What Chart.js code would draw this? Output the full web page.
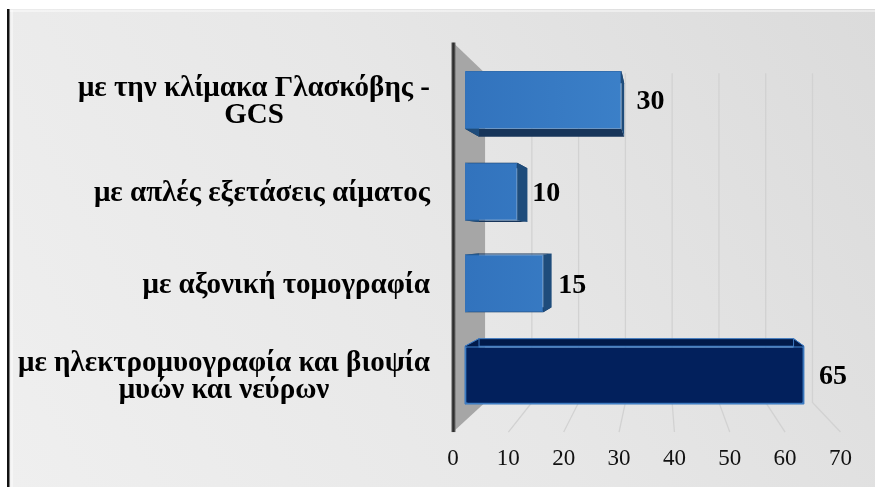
<!DOCTYPE html>
<html>
<head>
<meta charset="utf-8">
<script src="https://cdn.jsdelivr.net/npm/chart.js@4.4.1/dist/chart.umd.min.js"></script>
<style>
  html, body { margin: 0; padding: 0; background: #fff; }
  canvas { display: block; }
</style>
</head>
<body>
<canvas id="myChart" width="875" height="487"></canvas>
<script>
// Categories, top to bottom (each entry is the list of text lines)
let categories = [
    ['με την κλίμακα Γλασκόβης -', 'GCS'],
    ['με απλές εξετάσεις αίματος'],
    ['με αξονική τομογραφία'],
    ['με ηλεκτρομυογραφία και βιοψία', 'μυών και νεύρων']
];
let values = [30, 10, 15, 65];
let xTicks = [0, 10, 20, 30, 40, 50, 60, 70];

// colours for front face / depth faces of each bar
let frontLight = ['#3273bd', '#4790d6'];
let frontDark = '#02205c';
let sideColors = ['#1e4c7b', '#1e4c7b', '#1e4c7b', '#011a4a'];
let capColors = ['#17355a', '#17355a', '#17355a', '#011a4a'];

// perspective setup: everything is projected toward a vanishing point
const VP = { x: 660, y: 241 };
const BAR_DEPTH = 0.072;
const WALL_FRONT = -0.0615;
const WALL_BACK = 0.103;
const SERIF = '"Liberation Serif", "Times New Roman", serif';

function project(x, y, t) {
    return { x: VP.x + (x - VP.x) * (1 - t), y: VP.y + (y - VP.y) * (1 - t) };
}

function quad(ctx, pts, fill, stroke) {
    ctx.beginPath();
    ctx.moveTo(pts[0].x, pts[0].y);
    for (let i = 1; i < pts.length; i++) ctx.lineTo(pts[i].x, pts[i].y);
    ctx.closePath();
    ctx.fillStyle = fill;
    ctx.fill();
    if (stroke) {
        ctx.strokeStyle = stroke;
        ctx.lineWidth = 1;
        ctx.stroke();
    }
}

let scenePlugin = {
    id: 'scene3d',
    beforeDraw(chart) {
        let ctx = chart.ctx;
        let area = chart.chartArea;
        let xs = chart.scales.x;
        let ys = chart.scales.y;
        ctx.save();

        // page background and frame
        ctx.fillStyle = '#ffffff';
        ctx.fillRect(0, 0, chart.width, chart.height);
        let bg = ctx.createLinearGradient(9, chart.height, chart.width, 9);
        bg.addColorStop(0, '#efefef');
        bg.addColorStop(0.5, '#e7e7e7');
        bg.addColorStop(1, '#dbdbdb');
        ctx.fillStyle = bg;
        ctx.fillRect(9, 9, chart.width - 9, chart.height - 9);
        ctx.fillStyle = 'rgba(255,255,255,0.45)';
        ctx.fillRect(9, 10, chart.width - 9, 2);
        ctx.fillRect(11, 10, 2, chart.height - 10);
        ctx.fillStyle = '#111111';
        ctx.fillRect(7, 9, 2.5, chart.height - 9);

        // back wall gridlines and floor lines
        ctx.strokeStyle = '#d2d2d2';
        ctx.lineWidth = 1.3;
        xTicks.forEach(v => {
            if (v === 0) return;
            let px = xs.getPixelForValue(v);
            let top = project(px, area.top, WALL_BACK);
            let bot = project(px, area.bottom, WALL_BACK);
            let front = project(px, area.bottom, WALL_FRONT);
            ctx.beginPath();
            ctx.moveTo(top.x, top.y);
            ctx.lineTo(bot.x, bot.y);
            ctx.lineTo(front.x, front.y);
            ctx.stroke();
        });

        // side wall at value 0
        let x0 = xs.getPixelForValue(0);
        let ft = project(x0, area.top, WALL_FRONT);
        let bt = project(x0, area.top, WALL_BACK);
        let bb = project(x0, area.bottom, WALL_BACK);
        let fb = project(x0, area.bottom, WALL_FRONT);
        quad(ctx, [ft, bt, bb, fb], '#a6a6a6');
        let edge = ctx.createLinearGradient(ft.x - 1.5, 0, ft.x + 2.5, 0);
        edge.addColorStop(0, '#555555');
        edge.addColorStop(0.5, '#2e2e2e');
        edge.addColorStop(1, '#6a6a6a');
        ctx.fillStyle = edge;
        ctx.fillRect(ft.x - 1.5, ft.y, 4, fb.y - ft.y);

        // value axis labels along the front edge of the floor
        ctx.fillStyle = '#111111';
        ctx.font = '23px ' + SERIF;
        ctx.textAlign = 'center';
        ctx.textBaseline = 'middle';
        xTicks.forEach(v => {
            let p = project(xs.getPixelForValue(v), area.bottom, WALL_FRONT);
            ctx.fillText(String(v), p.x, 459);
        });

        // category labels: block right-aligned, lines centred in the block
        ctx.font = 'bold 29px ' + SERIF;
        ctx.fillStyle = '#000000';
        let lineH = 27;
        categories.forEach((lines, i) => {
            let cy = ys.getPixelForValue(i);
            let w = Math.max(...lines.map(l => ctx.measureText(l).width));
            let cx = 430 - w / 2;
            lines.forEach((l, k) => {
                ctx.fillText(l, cx, cy + 2 + (k - (lines.length - 1) / 2) * lineH);
            });
        });
        ctx.restore();
    },
    beforeDatasetsDraw(chart) {
        // depth faces behind each bar's front face
        let ctx = chart.ctx;
        let meta = chart.getDatasetMeta(0);
        ctx.save();
        meta.data.forEach((bar, i) => {
            let p = bar.getProps(['x', 'y', 'base', 'height'], true);
            let t = p.y - p.height / 2, b = p.y + p.height / 2;
            let l = p.base, r = p.x;
            let f = [{ x: l, y: t }, { x: r, y: t }, { x: r, y: b }, { x: l, y: b }];
            let k = f.map(c => project(c.x, c.y, BAR_DEPTH));
            let stroke = i === 3 ? '#3b78c0' : null;
            quad(ctx, [f[0], f[1], k[1], k[0]], capColors[i], stroke);
            quad(ctx, [f[3], f[2], k[2], k[3]], capColors[i], stroke);
            quad(ctx, [f[1], f[2], k[2], k[1]], sideColors[i], stroke);
            quad(ctx, [f[0], f[3], k[3], k[0]], sideColors[i], stroke);
        });
        ctx.restore();
    },
    afterDatasetsDraw(chart) {
        // value labels to the right of the bars
        let ctx = chart.ctx;
        let meta = chart.getDatasetMeta(0);
        ctx.save();
        ctx.font = 'bold 28px ' + SERIF;
        ctx.fillStyle = '#000000';
        ctx.textAlign = 'left';
        ctx.textBaseline = 'middle';
        meta.data.forEach((bar, i) => {
            ctx.fillText(String(values[i]), bar.x + 15, bar.y + 2);
        });
        ctx.restore();
    }
};

let ctx = document.getElementById('myChart').getContext('2d');
let myChart = new Chart(ctx, {
    type: 'bar',
    data: {
        labels: categories,
        datasets: [{
            data: values,
            backgroundColor: function(context) {
                let area = context.chart.chartArea;
                if (context.dataIndex === 3) return frontDark;
                if (!area) return frontLight[0];
                let g = context.chart.ctx.createLinearGradient(area.left, 0, area.right, 0);
                g.addColorStop(0, frontLight[0]);
                g.addColorStop(1, frontLight[1]);
                return g;
            },
            borderColor: ['#3a7cc4', '#3a7cc4', '#3a7cc4', '#3d7cc4'],
            borderWidth: [0.8, 0.8, 0.8, 1.6],
            borderSkipped: false,
            barPercentage: 0.63,
            categoryPercentage: 1
        }]
    },
    options: {
        indexAxis: 'y',
        responsive: false,
        animation: false,
        layout: { padding: { left: 465, right: 45, top: 54, bottom: 66 } },
        scales: {
            x: { display: false, min: 0, max: 70 },
            y: { display: false }
        },
        plugins: {
            legend: { display: false },
            tooltip: { enabled: false }
        }
    },
    plugins: [scenePlugin]
});
</script>
</body>
</html>
